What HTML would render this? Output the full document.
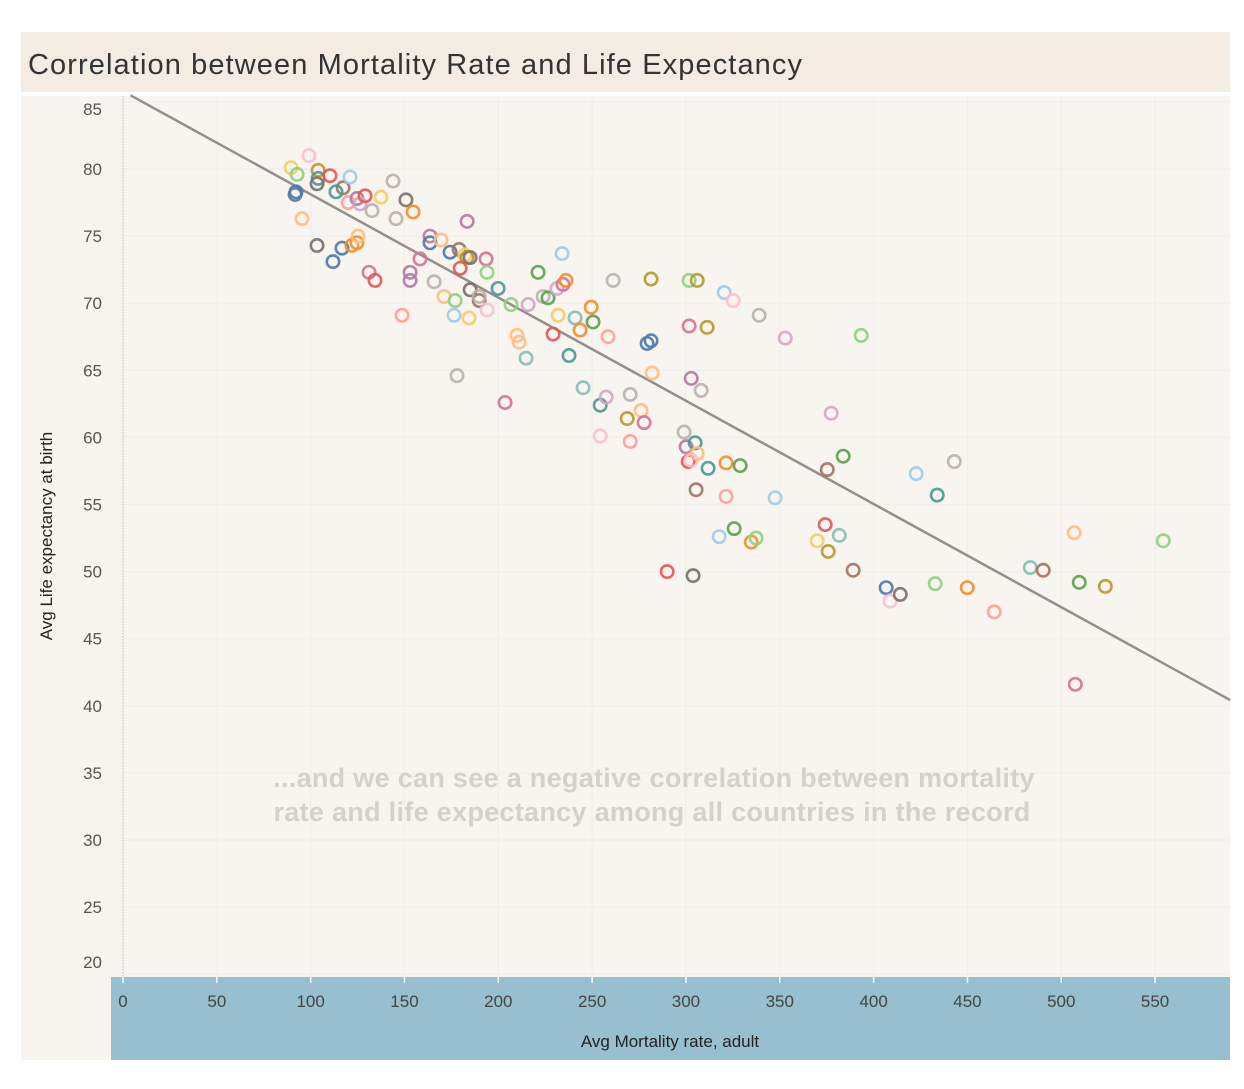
<!DOCTYPE html>
<html><head><meta charset="utf-8"><style>
body{margin:0;background:#fff;width:1244px;height:1084px;overflow:hidden;font-family:"Liberation Sans",sans-serif}
</style></head><body>
<svg id="chart" width="1244" height="1084" xmlns="http://www.w3.org/2000/svg">
<rect x="21" y="32" width="1209" height="60" fill="#f4ece2"/>
<text x="28" y="74" font-size="29" fill="#333" font-family="Liberation Sans, sans-serif" letter-spacing="1.1">Correlation between Mortality Rate and Life Expectancy</text>
<rect x="21" y="96" width="1209" height="964" fill="#f8f5f0"/>
<rect x="111" y="977" width="1119" height="83" fill="#98bfcf"/>
<g id="grid"></g>
<g id="yticks"></g>
<g id="xticks"></g>
<line x1="123" y1="96" x2="123" y2="977" stroke="#bbb" stroke-dasharray="1.5,1.5"/>
<text transform="translate(52,536) rotate(-90)" text-anchor="middle" font-size="17" fill="#222">Avg Life expectancy at birth</text>
<text x="670" y="1047" text-anchor="middle" font-size="17" fill="#222">Avg Mortality rate, adult</text>
<g id="trend"></g>
<g id="points"></g>
<text x="654" y="787" text-anchor="middle" font-size="27" font-weight="bold" fill="#d4d0cc" letter-spacing="0.3">...and we can see a negative correlation between mortality</text>
<text x="652" y="821" text-anchor="middle" font-size="27" font-weight="bold" fill="#d4d0cc" letter-spacing="0.3">rate and life expectancy among all countries in the record</text>
</svg>
<script>
const xTicks=[0,50,100,150,200,250,300,350,400,450,500,550];
const yTicks=[20,25,30,35,40,45,50,55,60,65,70,75,80,85];
const mortality=[89.6,92.8,99.1,104,104,103.4,110.3,117.3,113.5,121,92.2,91.7,95.4,120,124.7,126.3,129,132.7,137.5,143.9,150.8,154.6,145.5,103.4,111.9,116.7,122,124.7,125.3,131.1,134.3,148.7,153,153,158.3,163.6,163.6,169.5,183.4,174.3,179.1,182.3,183.4,185,179.7,193.5,194,185,189.8,189.8,165.8,171.1,177,176.4,184.4,194,178,199.9,203.6,206.8,215.9,221.2,210,211.1,214.8,223.9,226.5,229.2,231.3,231.9,234.5,236.1,234,237.7,240.9,243.6,245.2,249.5,250.5,254.3,254.3,257.5,258.5,261.2,268.7,270.3,270.3,276.1,277.7,282,281.4,279.3,281.4,301.7,301.7,306,311.3,302.8,308.1,299,300.1,301.2,302.8,304.9,306,305.4,311.8,320.4,325.2,321.4,321.4,328.9,325.7,317.7,334.8,337.4,339,352.9,347.5,377.4,375.3,383.8,393.4,374.2,381.7,369.9,375.8,389.1,303.8,290,406.7,408.8,414.2,422.7,433.9,443,432.8,449.9,464.3,483.5,490.4,506.9,509.6,523.5,554.4,507.5];
const lifeExp=[80.1,79.6,81.0,79.9,79.3,78.9,79.5,78.6,78.3,79.4,78.3,78.1,76.3,77.5,77.8,77.4,78.0,76.9,77.9,79.1,77.7,76.8,76.3,74.3,73.1,74.1,74.3,74.5,75.0,72.3,71.7,69.1,72.3,71.7,73.3,75.0,74.5,74.7,76.1,73.8,74.0,73.6,73.4,73.4,72.6,73.3,72.3,71.0,70.2,70.5,71.6,70.5,70.2,69.1,68.9,69.5,64.6,71.1,62.6,69.9,69.9,72.3,67.6,67.1,65.9,70.5,70.4,67.7,71.1,69.1,71.4,71.7,73.7,66.1,68.9,68.0,63.7,69.7,68.6,62.4,60.1,63.0,67.5,71.7,61.4,63.2,59.7,62.0,61.1,64.8,71.8,67.0,67.2,68.3,71.7,71.7,68.2,64.4,63.5,60.4,59.3,58.2,58.3,59.6,58.8,56.1,57.7,70.8,70.2,58.1,55.6,57.9,53.2,52.6,52.2,52.5,69.1,67.4,55.5,61.8,57.6,58.6,67.6,53.5,52.7,52.3,51.5,50.1,49.7,50.0,48.8,47.8,48.3,57.3,55.7,58.2,49.1,48.8,47.0,50.3,50.1,52.9,49.2,48.9,52.3,41.6];
const colorIdx=[7,5,19,6,8,12,10,14,8,1,0,0,3,11,16,17,10,13,7,13,12,2,13,12,0,0,2,2,3,18,10,11,16,16,18,16,0,3,16,0,14,7,6,12,10,18,5,12,14,13,13,3,5,1,7,19,13,8,18,5,17,4,3,3,9,13,4,10,17,7,18,2,1,8,9,2,9,2,4,8,19,17,11,13,6,13,11,3,18,3,6,0,0,18,5,6,6,16,13,13,16,10,19,8,3,14,8,1,19,2,11,4,4,1,2,5,13,17,1,17,14,4,5,10,9,7,6,14,12,10,0,19,12,1,8,13,5,2,11,9,14,3,4,6,5,18];
const palette=["#4e79a7","#a0cbe8","#f28e2b","#ffbe7d","#59a14f","#8cd17d","#b6992d","#f1ce63","#499894","#86bcb6","#e15759","#ff9d9a","#79706e","#bab0ac","#9d7660","#d37295","#b07aa1","#d4a6c8","#d37295","#fabfd2"];
const trendX=[4,590];
const trendSlope=-0.0769, trendIntercept=85.8;
const NS="http://www.w3.org/2000/svg";
const xs=v=>123+v*1.8765, ys=v=>169+(80-v)*13.42;
function mk(tag,attrs,parent){const e=document.createElementNS(NS,tag);for(const k in attrs)e.setAttribute(k,attrs[k]);document.getElementById(parent).appendChild(e);return e;}
xTicks.forEach(t=>{
  const g=mk('line',{x1:xs(t),x2:xs(t),y1:96,y2:977,stroke:'#f0eeea','stroke-width':1.2},'grid');
  
  
  const tk=mk('line',{x1:xs(t),x2:xs(t),y1:977,y2:983,stroke:'#fff','stroke-width':1.5},'xticks');
  
  
  const l=mk('text',{x:xs(t),y:1007,'text-anchor':'middle','font-size':17,fill:'#444'},'xticks');
  l.textContent=t;
  
  
});
yTicks.forEach(t=>{
  const g=mk('line',{x1:123,x2:1230,y1:ys(t),y2:ys(t),stroke:'#f0eeea','stroke-width':1.2},'grid');
  
  
  let yy=ys(t)+6; if(t===85)yy=115; if(t===20)yy=968;
  const l=mk('text',{x:102,y:yy,'text-anchor':'end','font-size':17,fill:'#555'},'yticks');
  l.textContent=t;
  
  
});
const tl=mk('line',{x1:xs(trendX[0]),y1:ys(trendIntercept+trendSlope*trendX[0]),x2:xs(trendX[1]),y2:ys(trendIntercept+trendSlope*trendX[1]),stroke:'#958f8b','stroke-width':2.5},'trend');


mortality.forEach((m,i)=>{
  const c=mk('circle',{cx:xs(m),cy:ys(lifeExp[i]),r:6.2,fill:'none',stroke:palette[colorIdx[i]],'stroke-width':2.6,'stroke-opacity':0.9},'points');
  
  
});
</script>
</body></html>
